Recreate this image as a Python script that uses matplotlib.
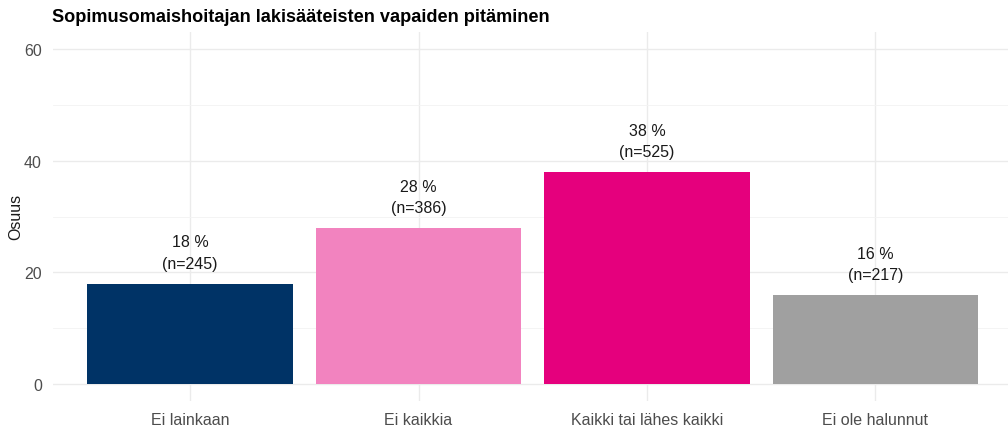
import matplotlib
matplotlib.use("Agg")
import matplotlib.pyplot as plt

categories = ["Ei lainkaan", "Ei kaikkia", "Kaikki tai lähes kaikki", "Ei ole halunnut"]
shares = [18, 28, 38, 16]
counts = [245, 386, 525, 217]
colors = ["#003366", "#F283BF", "#E5007D", "#A0A0A0"]
yticks = [0, 20, 40, 60]
title = "Sopimusomaishoitajan lakisääteisten vapaiden pitäminen"
ylabel = "Osuus"

plt.rcParams['font.family'] = ['Liberation Sans', 'DejaVu Sans']

fig = plt.figure(figsize=(10.08, 4.27), dpi=100)
ax = fig.add_axes([53/1008, 1 - 402/427, 1 - 53/1008, (402 - 33)/427])

x = list(range(len(categories)))
ax.bar(x, shares, width=0.9, color=colors, zorder=2)
for xi, s, n in zip(x, shares, counts):
    ax.annotate(f"{s} %\n(n={n})", (xi, s), xytext=(0, 9), textcoords="offset points",
                ha="center", va="bottom", fontsize=11.5, linespacing=1.55, color="#1a1a1a")

ax.set_xlim(-0.6, 3.58)
ax.set_ylim(-3, 63)
ax.set_xticks(x)
ax.set_xticklabels(categories, fontsize=11.5, color="#4D4D4D")
ax.set_yticks(yticks)
ax.set_yticklabels([str(v) for v in yticks], fontsize=11.5, color="#4D4D4D")
ax.set_yticks([10, 30, 50], minor=True)
ax.tick_params(axis="both", which="both", length=0, pad=8)
ax.grid(True, which="major", color="#EBEBEB", linewidth=1.0, zorder=0)
ax.grid(True, which="minor", axis="y", color="#F3F3F3", linewidth=0.6, zorder=0)
for sp in ax.spines.values():
    sp.set_visible(False)
fig.text(16/1008, 1 - 217/427, ylabel, fontsize=11.5, color="#1a1a1a", rotation=90,
         ha="center", va="center")
fig.text(52/1008, 1 - 18/427, title, fontsize=13.1, fontweight="bold", ha="left", va="center", color="#000000")

fig.savefig("out.png", dpi=100)
